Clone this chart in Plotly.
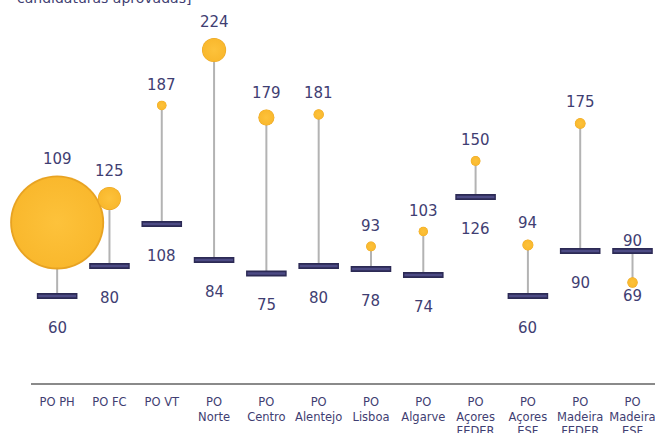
import plotly.graph_objects as go
import math

categories = ["PO PH", "PO FC", "PO VT", "PO<br>Norte", "PO<br>Centro", "PO<br>Alentejo",
              "PO<br>Lisboa", "PO<br>Algarve", "PO<br>Açores<br>FEDER", "PO<br>Açores<br>ESF",
              "PO<br>Madeira<br>FEDER", "PO<br>Madeira<br>ESF"]
low_values = [60, 80, 108, 84, 75, 80, 78, 74, 126, 60, 90, 90]
high_values = [109, 125, 187, 224, 179, 181, 93, 103, 150, 94, 175, 69]
candidaturas = [4400, 265, 45, 290, 128, 53, 47, 43, 47, 60, 57, 53]

TEXT_COLOR = "#3f3e72"
FONT = "DejaVu Sans"
MAX_D = 94
sizeref = 2.0 * max(candidaturas) / (MAX_D ** 2)

fig = go.Figure()

# connectors
lx, ly = [], []
for c, lo, hi in zip(categories, low_values, high_values):
    lx += [c, c, None]
    ly += [lo, hi, None]
fig.add_trace(go.Scatter(x=lx, y=ly, mode="lines", cliponaxis=False,
                         line=dict(color="#b3b3b3", width=2),
                         hoverinfo="skip", showlegend=False))

# low markers (dashes)
fig.add_trace(go.Scatter(x=categories, y=low_values, mode="markers", cliponaxis=False,
                         marker=dict(symbol="line-ew", size=29, opacity=1,
                                     line=dict(color="#2c2a55", width=6)),
                         showlegend=False))
fig.add_trace(go.Scatter(x=categories, y=low_values, mode="markers", cliponaxis=False,
                         marker=dict(symbol="line-ew", size=27, opacity=1,
                                     line=dict(color="#4d4b85", width=2.5)),
                         showlegend=False))

# bubbles: darker rim layer + lighter inner layer
fig.add_trace(go.Scatter(x=categories, y=high_values, mode="markers", cliponaxis=False,
                         marker=dict(size=candidaturas, sizemode="area", sizeref=sizeref,
                                     color="#e8a322", opacity=1, line=dict(width=0)),
                         showlegend=False))
fig.add_trace(go.Scatter(x=categories, y=high_values, mode="markers", cliponaxis=False,
                         marker=dict(size=candidaturas, sizemode="area",
                                     sizeref=sizeref / (0.96 ** 2),
                                     color="#f9b82d", opacity=1,
                                     gradient=dict(type="radial", color="#fdc23b"),
                                     line=dict(width=0)),
                         hoverinfo="skip", showlegend=False))

annotations = []
for c, lo, hi, n in zip(categories, low_values, high_values, candidaturas):
    r = math.sqrt(n / (2 * sizeref))
    if hi >= lo:
        hi_shift = r + 16
        lo_shift = -32
    else:
        hi_shift = -(r + 8)
        lo_shift = 9.5
    annotations.append(dict(x=c, y=hi, xref="x", yref="y", text=str(hi), showarrow=False,
                            yshift=hi_shift, font=dict(family=FONT, size=15, color=TEXT_COLOR)))
    annotations.append(dict(x=c, y=lo, xref="x", yref="y", text=str(lo), showarrow=False,
                            yshift=lo_shift, font=dict(family=FONT, size=15, color=TEXT_COLOR)))

annotations.append(dict(x=0, xref="paper", xanchor="left", xshift=-16,
                        y=1, yref="paper", yanchor="middle", yshift=2,
                        text="candidaturas aprovadas]", showarrow=False,
                        font=dict(family=FONT, size=14, color=TEXT_COLOR)))

fig.update_layout(
    width=655, height=433,
    margin=dict(l=31, r=0, t=0, b=50, autoexpand=False),
    paper_bgcolor="white", plot_bgcolor="white",
    annotations=annotations,
    xaxis=dict(type="category", range=[-0.5, 11.43], showgrid=False, zeroline=False,
               automargin=False,
               showline=True, linecolor="#8a8a8a", linewidth=1.5,
               ticks="outside", ticklen=7, tickcolor="rgba(0,0,0,0)",
               tickfont=dict(family=FONT, size=11.5, color=TEXT_COLOR)),
    yaxis=dict(range=[2, 257.3], visible=False, showgrid=False, zeroline=False,
               automargin=False),
)

fig.write_html("out.html", config={"displayModeBar": False},
               post_script="document.body.style.margin='0';document.body.style.overflow='hidden';")
